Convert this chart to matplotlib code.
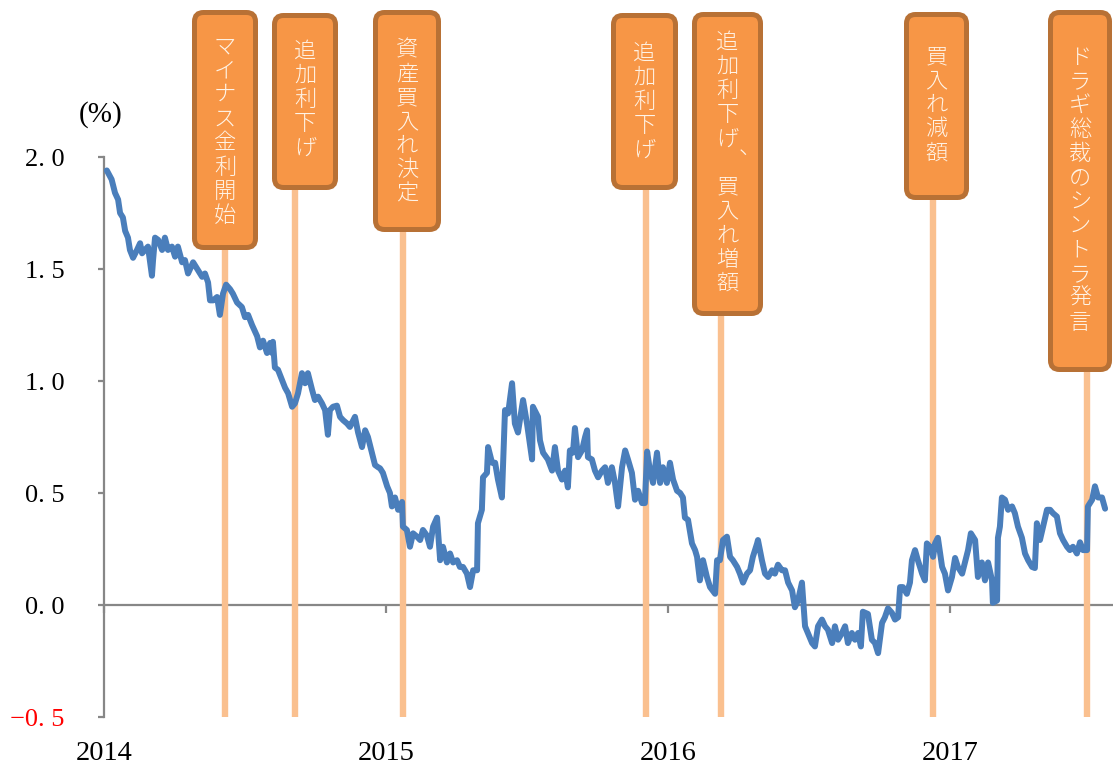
import numpy as np
import matplotlib.pyplot as plt
from matplotlib.patches import FancyBboxPatch

# German 10y yield (x = years since 2014-01-01)
t_off = [
    0.010, 0.027, 0.039, 0.050, 0.057, 0.067, 0.075, 0.085, 0.092, 0.103,
    0.117, 0.128, 0.135, 0.145, 0.156, 0.170, 0.174, 0.181, 0.192, 0.206,
    0.216, 0.227, 0.241, 0.252, 0.262, 0.277, 0.287, 0.298, 0.316, 0.333,
    0.348, 0.358, 0.369, 0.376, 0.387, 0.401, 0.411, 0.422, 0.433, 0.447,
    0.457, 0.472, 0.489, 0.500, 0.511, 0.525, 0.543, 0.553, 0.564, 0.578,
    0.589, 0.596, 0.599, 0.606, 0.617, 0.631, 0.642, 0.653, 0.667, 0.677,
    0.688, 0.702, 0.713, 0.723, 0.738, 0.748, 0.759, 0.773, 0.784, 0.794,
    0.801, 0.812, 0.826, 0.837, 0.848, 0.862, 0.872, 0.890, 0.901, 0.915,
    0.926, 0.936, 0.950, 0.961, 0.972, 0.979, 0.989, 1.004, 1.014, 1.021,
    1.032, 1.043, 1.057, 1.060, 1.074, 1.085, 1.096, 1.110, 1.121, 1.131,
    1.145, 1.156, 1.167, 1.181, 1.192, 1.202, 1.216, 1.227, 1.238, 1.252,
    1.262, 1.273, 1.287, 1.298, 1.309, 1.323, 1.326, 1.340, 1.344, 1.358,
    1.362, 1.376, 1.387, 1.397, 1.411, 1.422, 1.433, 1.447, 1.457, 1.468,
    1.482, 1.486, 1.500, 1.518, 1.521, 1.539, 1.546, 1.557, 1.574, 1.589,
    1.599, 1.610, 1.624, 1.635, 1.645, 1.652, 1.663, 1.670, 1.681, 1.695,
    1.706, 1.713, 1.716, 1.730, 1.741, 1.752, 1.766, 1.777, 1.787, 1.801,
    1.812, 1.823, 1.837, 1.848, 1.858, 1.872, 1.883, 1.894, 1.908, 1.918,
    1.926, 1.936, 1.947, 1.961, 1.972, 1.982, 1.996, 2.007, 2.018, 2.032,
    2.043, 2.053, 2.060, 2.071, 2.085, 2.096, 2.103, 2.113, 2.124, 2.138,
    2.149, 2.167, 2.174, 2.184, 2.195, 2.209, 2.220, 2.230, 2.245, 2.255,
    2.266, 2.280, 2.291, 2.301, 2.316, 2.319, 2.333, 2.344, 2.355, 2.369,
    2.379, 2.390, 2.404, 2.415, 2.426, 2.440, 2.450, 2.461, 2.475, 2.486,
    2.496, 2.511, 2.521, 2.532, 2.546, 2.557, 2.567, 2.582, 2.592, 2.603,
    2.617, 2.628, 2.638, 2.652, 2.663, 2.674, 2.684, 2.691, 2.709, 2.723,
    2.734, 2.745, 2.759, 2.769, 2.780, 2.794, 2.805, 2.816, 2.823, 2.833,
    2.847, 2.858, 2.865, 2.876, 2.886, 2.901, 2.911, 2.918, 2.929, 2.940,
    2.947, 2.957, 2.972, 2.982, 2.993, 3.007, 3.018, 3.028, 3.043, 3.053,
    3.064, 3.074, 3.089, 3.099, 3.113, 3.124, 3.135, 3.149, 3.152, 3.167,
    3.170, 3.177, 3.184, 3.195, 3.206, 3.220, 3.230, 3.241, 3.255, 3.266,
    3.277, 3.291, 3.301, 3.308, 3.319, 3.330, 3.344, 3.355, 3.365, 3.379,
    3.390, 3.401, 3.415, 3.425, 3.436, 3.450, 3.461, 3.472, 3.486, 3.489,
    3.504, 3.514, 3.525, 3.539, 3.550]

yld = [
    1.94, 1.90, 1.84, 1.81, 1.75, 1.73, 1.67, 1.64, 1.585, 1.55,
    1.585, 1.615, 1.57, 1.585, 1.60, 1.47, 1.54, 1.64, 1.63, 1.585,
    1.64, 1.585, 1.60, 1.555, 1.60, 1.53, 1.54, 1.48, 1.53, 1.495,
    1.465, 1.48, 1.44, 1.36, 1.36, 1.375, 1.295, 1.39, 1.43, 1.41,
    1.39, 1.35, 1.33, 1.285, 1.295, 1.25, 1.20, 1.15, 1.18, 1.125,
    1.17, 1.125, 1.175, 1.06, 1.05, 1.005, 0.97, 0.945, 0.885, 0.90,
    0.945, 1.035, 0.99, 1.035, 0.96, 0.915, 0.93, 0.90, 0.87, 0.76,
    0.87, 0.885, 0.89, 0.84, 0.825, 0.81, 0.795, 0.84, 0.77, 0.705,
    0.78, 0.75, 0.68, 0.625, 0.615, 0.61, 0.59, 0.53, 0.50, 0.44,
    0.48, 0.425, 0.46, 0.35, 0.335, 0.26, 0.32, 0.305, 0.29, 0.335,
    0.31, 0.26, 0.35, 0.39, 0.20, 0.26, 0.19, 0.23, 0.19, 0.20,
    0.17, 0.17, 0.14, 0.08, 0.155, 0.155, 0.365, 0.425, 0.57, 0.59,
    0.705, 0.635, 0.635, 0.56, 0.48, 0.87, 0.855, 0.99, 0.81, 0.77,
    0.885, 0.915, 0.81, 0.65, 0.885, 0.84, 0.735, 0.68, 0.65, 0.60,
    0.705, 0.60, 0.56, 0.60, 0.525, 0.69, 0.68, 0.79, 0.66, 0.69,
    0.75, 0.78, 0.66, 0.65, 0.60, 0.57, 0.60, 0.615, 0.545, 0.615,
    0.545, 0.44, 0.615, 0.69, 0.65, 0.59, 0.47, 0.51, 0.455, 0.455,
    0.685, 0.60, 0.545, 0.68, 0.545, 0.615, 0.545, 0.635, 0.56, 0.51,
    0.50, 0.48, 0.39, 0.38, 0.275, 0.245, 0.215, 0.11, 0.20, 0.125,
    0.08, 0.05, 0.20, 0.20, 0.29, 0.305, 0.215, 0.20, 0.17, 0.14,
    0.10, 0.14, 0.155, 0.215, 0.275, 0.29, 0.20, 0.14, 0.125, 0.155,
    0.14, 0.18, 0.155, 0.155, 0.10, 0.065, -0.01, 0.02, 0.10, -0.095,
    -0.125, -0.17, -0.185, -0.095, -0.065, -0.095, -0.11, -0.17, -0.095, -0.155,
    -0.125, -0.095, -0.17, -0.125, -0.155, -0.125, -0.185, -0.03, -0.04, -0.155,
    -0.17, -0.215, -0.08, -0.055, -0.015, -0.035, -0.065, -0.055, 0.08, 0.08,
    0.05, 0.10, 0.20, 0.245, 0.20, 0.14, 0.11, 0.275, 0.26, 0.215,
    0.275, 0.30, 0.17, 0.14, 0.065, 0.125, 0.21, 0.17, 0.14, 0.19,
    0.245, 0.32, 0.29, 0.125, 0.19, 0.11, 0.19, 0.11, 0.01, 0.02,
    0.30, 0.35, 0.48, 0.47, 0.425, 0.44, 0.41, 0.35, 0.30, 0.23,
    0.20, 0.17, 0.165, 0.365, 0.29, 0.35, 0.425, 0.425, 0.41, 0.395,
    0.32, 0.29, 0.26, 0.245, 0.26, 0.23, 0.28, 0.245, 0.245, 0.44,
    0.47, 0.53, 0.48, 0.48, 0.43]

events = [2014.429, 2014.677, 2015.060, 2015.922, 2016.188, 2016.940, 2017.486]
event_labels = ['マイナス金利開始', '追加利下げ', '資産買入れ決定', '追加利下げ',
                '追加利下げ、買入れ増額', '買入れ減額', 'ドラギ総裁のシントラ発言']

yticks = [-0.5, 0.0, 0.5, 1.0, 1.5, 2.0]
ytick_labels = ['−0. 5', '0. 0', '0. 5', '1. 0', '1. 5', '2. 0']
years = [2014, 2015, 2016, 2017]

# label boxes in image pixels: left, top, right, bottom, y of first character
boxes = [(192, 10, 258, 250, 47), (272, 13, 338, 190, 52), (373, 10, 441, 232, 50),
         (611, 13, 678, 190, 54), (692, 12, 763, 316, 43), (904, 12, 969, 200, 57),
         (1048, 10, 1112, 372, 58)]

W, H = 1113, 768
fig = plt.figure(figsize=(W / 100, H / 100), dpi=100)
ax = fig.add_axes([104 / W, 51 / H, 1009 / W, 717 / H])
ax.set_xlim(2014, 2014 + 1009 / 282)
ax.set_ylim(-0.5, 2.0 + 157 / 224)

gray = '#878787'
ax.vlines(events, -0.5, 2.55, color='#FAC08F', lw=4.6, zorder=2)
ax.plot(2014 + np.array(t_off), yld, color='#4A7EBB', lw=4.3,
        solid_joinstyle='round', solid_capstyle='round', zorder=3)

for s in ['top', 'right']:
    ax.spines[s].set_visible(False)
ax.spines['left'].set_bounds(-0.5, 2.0)
ax.spines['left'].set_color(gray)
ax.spines['left'].set_linewidth(1.6)
ax.spines['bottom'].set_position(('data', 0))
ax.spines['bottom'].set_color(gray)
ax.spines['bottom'].set_linewidth(1.6)
ax.spines['bottom'].set_zorder(1)

ax.set_yticks(yticks)
ax.set_yticklabels(ytick_labels, fontfamily='Liberation Serif', fontsize=19)
ax.get_yticklabels()[0].set_color('red')
ax.tick_params(axis='y', length=4.5, width=1.6, color=gray, pad=24)
ax.set_xticks(years)
ax.set_xticklabels([str(v) for v in years], fontfamily='Liberation Serif', fontsize=20.5)
ax.tick_params(axis='x', length=6, width=1.6, color=gray, pad=92)

fig.text(79 / W, 1 - 115 / H, '(%)', fontfamily='Liberation Serif', fontsize=21,
         ha='left', va='center')

# event boxes with vertical text
pitch = 24.1
for (l, tp, r, b, fy), lab in zip(boxes, event_labels):
    inset = 2.5
    box = FancyBboxPatch(((l + inset) / 100, (H - b + inset) / 100),
                         (r - l - 2 * inset) / 100, (b - tp - 2 * inset) / 100,
                         boxstyle='round,pad=0,rounding_size=0.09',
                         fc='#F79646', ec='#B87135', lw=3.6,
                         transform=fig.dpi_scale_trans, zorder=5)
    fig.patches.append(box)
    cx = (l + r) / 2
    for i, ch in enumerate(lab):
        cy = fy + i * pitch
        dx, dy = 0, 0
        if ch == '、':
            dx, dy = 22, -16
        fig.text((cx + dx) / W, 1 - (cy + dy) / H, ch, family=['Noto Sans CJK JP'],
                 fontsize=16, fontweight='light', color='#FFF3E6',
                 ha='center', va='center', zorder=6)

fig.savefig('out.png', dpi=100)
